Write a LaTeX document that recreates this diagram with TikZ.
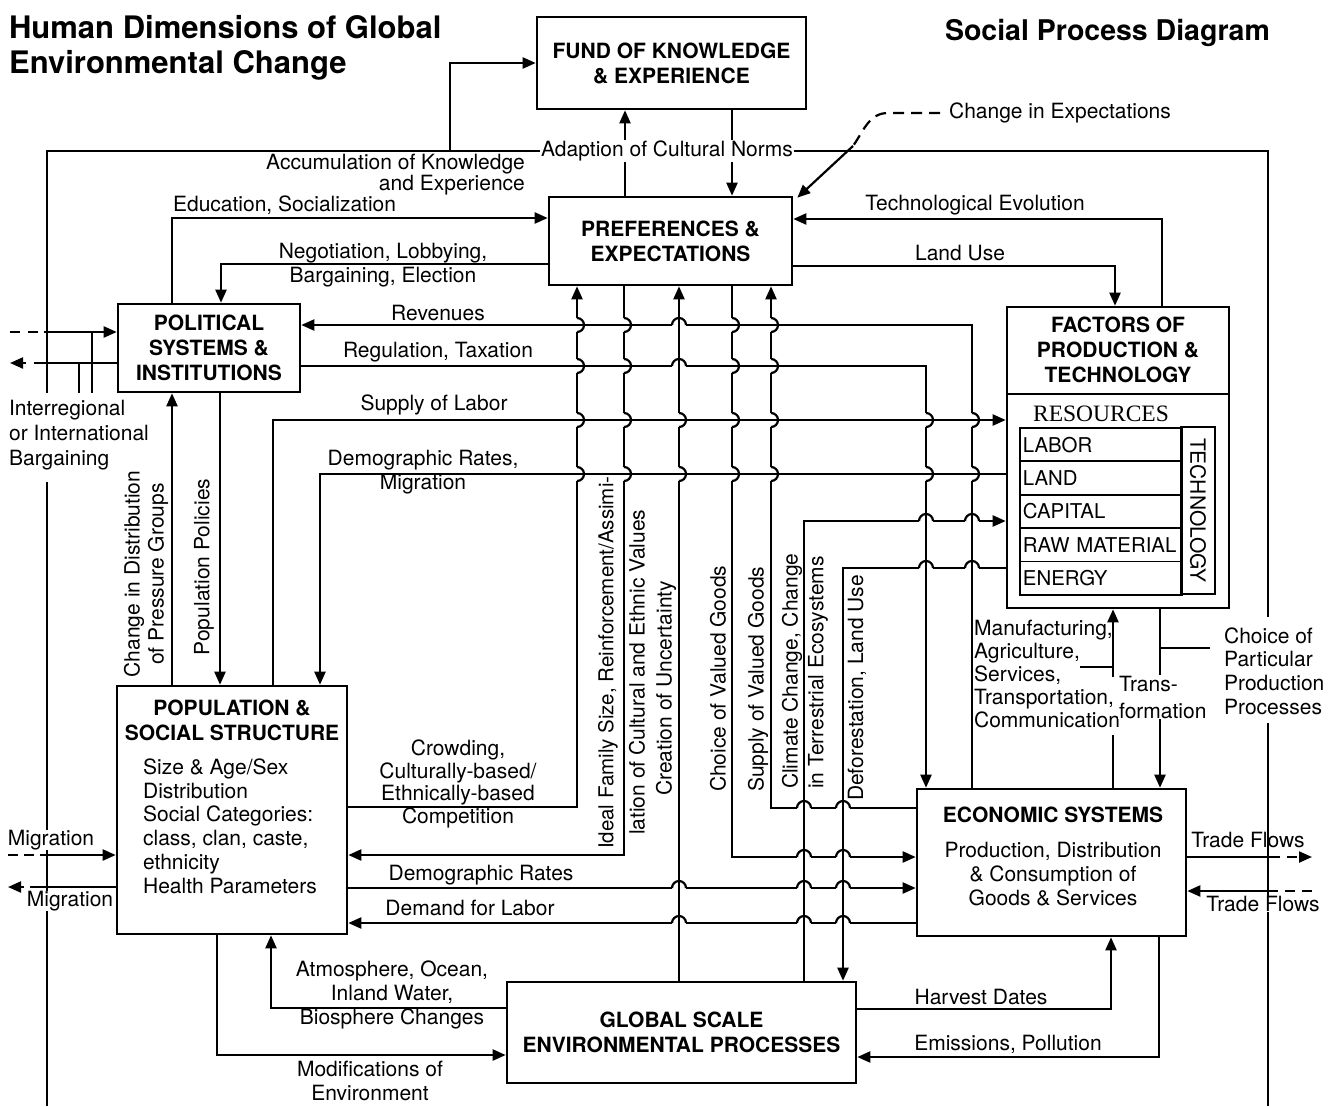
\documentclass[tikz,border=0pt]{standalone}
\usepackage{fontspec}
\setmainfont{TeX Gyre Heros}
\newfontfamily\serfont{Liberation Serif}
\usetikzlibrary{arrows.meta}

\begin{document}
\begin{tikzpicture}
	[x=1pt, y=1pt,
	line width=2.2pt,
	>={Triangle[length=13pt,width=11pt]},
	every node/.style={font=\fontsize{21}{24}\selectfont, inner sep=0pt},
	block/.style={draw, line width=2.6pt},
	btitle/.style={font=\fontsize{21}{25}\selectfont\bfseries, align=center},
	lbl/.style={align=center},
	vlbl/.style={rotate=90, anchor=west},
	wipe/.style={fill=white, inner sep=1pt},
	resrow/.style={draw, line width=1.8pt, anchor=north west, minimum height=33.4pt, text width=156pt, inner xsep=3pt, align=left, font=\fontsize{20.4}{22}\selectfont}]
\path[fill=white, use as bounding box] (0,0) rectangle (1337,-1106);

% titles
\node[anchor=north west, align=left, font=\fontsize{31}{35}\selectfont\bfseries] (title) at (8,-14) {Human Dimensions of Global\\Environmental Change};
\node[anchor=north east, font=\fontsize{28.5}{32}\selectfont\bfseries] (spd) at (1271,-18) {Social Process Diagram};

% boxes
\node[block, btitle, minimum width=269pt, minimum height=92pt] (fund) at (671.5,-63) {FUND OF KNOWLEDGE\\\& EXPERIENCE};
\node[block, btitle, minimum width=243pt, minimum height=88pt] (pref) at (670.5,-241) {PREFERENCES \&\\EXPECTATIONS};
\node[block, btitle, minimum width=182pt, minimum height=88pt] (pol) at (209,-348) {POLITICAL\\SYSTEMS \&\\INSTITUTIONS};
\node[block, minimum width=222pt, minimum height=301pt] (fact) at (1118,-457.5) {};
\node[block, minimum width=230pt, minimum height=248pt] (pop) at (232,-810) {};
\node[block, minimum width=269pt, minimum height=147pt] (econ) at (1051.5,-862.5) {};
\node[block, btitle, minimum width=349pt, minimum height=101pt] (glob) at (681.5,-1032.5) {GLOBAL SCALE\\ENVIRONMENTAL PROCESSES};

% inside factors
\node[btitle] (facttitle) at (1118,-350) {FACTORS OF\\PRODUCTION \&\\TECHNOLOGY};
\draw[line width=2.4pt] (fact.west |- 0,-394) -- (fact.east |- 0,-394);
\node[font=\fontsize{23.5}{26}\selectfont\serfont] (res) at (1101,-414) {RESOURCES};
\foreach \i/\rowtext in {0/LABOR,1/LAND,2/CAPITAL,3/RAW MATERIAL,4/ENERGY}
	\node[resrow] (r\i) at (1019,{-427-33.4*\i}) {\rowtext};
\node[draw, line width=1.8pt, rotate=-90, minimum width=167pt, minimum height=34pt] (tech) at (1198,-510.5) {TECHNOLOGY};

% inside population, economy
\node[btitle] (poptitle) at (232,-720) {POPULATION \&\\SOCIAL STRUCTURE};
\node[anchor=west, align=left, font=\fontsize{21}{23.8}\selectfont] (poplist) at (142,-826) {Size \& Age/Sex\\Distribution\\Social Categories:\\class,\ clan, caste,\\ethnicity\\Health Parameters};
\node[btitle] (econtitle) at (1053,-815) {ECONOMIC SYSTEMS};
\node[lbl] (econtxt) at (1053,-874) {Production, Distribution\\\& Consumption of\\Goods \& Services};

% outer frame
\coordinate (ftl) at (47,-151);
\coordinate (ftr) at (1268,-151);
\draw (47,-393) -- (ftl) -- (ftr) -- (1268,-617);
\draw (47,-482) -- (47,-1106);
\draw (1268,-723) -- (1268,-1106);

\node[anchor=west] (chexp) at (948,-113) {Change in Expectations};
\coordinate (chbend) at (853,-146);
\coordinate (accfoot) at (450,-151);

% connectors
\draw[->] (accfoot) |- (fund.west);
\draw[->] (pref.north -| 625,0) -- (fund.south -| 625,0);
\draw[->] (fund.south -| 732,0) -- (pref.north -| 732,0);
\draw[dash pattern=on 11pt off 7pt] ([xshift=-8pt]chexp.west) -- (888,-113) to[out=180, in=55] (chbend);
\draw[->] (chbend) -- ([xshift=4pt,yshift=-2pt]pref.north east);
\draw[->] (fact.north -| 1162,0) |- (pref.east |- 0,-219);
\draw[->] (pref.east |- 0,-266) -| (fact.north -| 1115,0);
\draw[->] (pol.north -| 172,0) |- (pref.west |- 0,-218);
\draw[->] (pref.west |- 0,-264) -| (pol.north -| 221,0);
\draw[->] (econ.north -| 972,0) |- (pol.east |- 0,-325);
\draw[->] (pol.east |- 0,-366) -| (econ.north -| 926,0);
\draw[->] (pop.north -| 273,0) |- (fact.west |- 0,-420);
\draw[->] (fact.west |- 0,-474) -| (pop.north -| 320,0);
\draw[->] (pop.north -| 172,0) -- (pol.south -| 172,0);
\draw[->] (pol.south -| 220,0) -- (pop.north -| 220,0);
\draw[->] (pop.east |- 0,-807) -| (pref.south -| 577,0);
\draw[->] (pref.south -| 624,0) |- (pop.east |- 0,-855);
\draw[->] (glob.north -| 679,0) -- (pref.south -| 679,0);
\draw[->] (pref.south -| 732,0) |- (econ.west |- 0,-857);
\draw[->] (econ.west |- 0,-808) -| (pref.south -| 771,0);
\draw[->] (glob.north -| 804,0) |- (fact.west |- 0,-521);
\draw[->] (fact.west |- 0,-568) -| (glob.north -| 843,0);
\draw (econ.north -| 1113,0) -- (1113,-735);
\draw[->] (1113,-677) -- (fact.south -| 1113,0);
\draw[->] (fact.south -| 1160,0) -- (econ.north -| 1160,0);
\draw[->] (pop.east |- 0,-888) -- (econ.west |- 0,-888);
\draw[->] (econ.west |- 0,-923) -- (pop.east |- 0,-923);
\draw[->] (glob.west |- 0,-1008) -| (pop.south -| 271,0);
\draw[->] (pop.south -| 217,0) |- (glob.west |- 0,-1055);
\draw[->] (glob.east |- 0,-1009) -| (econ.south -| 1111,0);
\draw[->] (econ.south -| 1159,0) |- (glob.east |- 0,-1057);
\draw (1080,-667) -- (1113,-667);
\draw (1160,-648) -- (1210,-648);

% flows leaving the region
\coordinate (tradeout) at (1312,-857);
\coordinate (tradein) at (1312,-891);
\draw (econ.east |- tradeout) -- (1270,-857);
\draw[->, dash pattern=on 10pt off 7pt] (1270,-857) -- (tradeout);
\draw[dash pattern=on 10pt off 7pt] (tradein) -- (1270,-891);
\draw[->] (1270,-891) -- (econ.east |- tradein);
\coordinate (migin) at (8,-855);
\coordinate (migout) at (8,-887);
\draw[dash pattern=on 10pt off 6pt] (migin) -- (40,-855);
\draw[->] (40,-855) -- (pop.west |- migin);
\draw (pop.west |- migout) -- (40,-887);
\draw[->, dash pattern=on 10pt off 6pt] (40,-887) -- (migout);
\coordinate (polin) at (10,-332);
\coordinate (polout) at (10,-363);
\draw[dash pattern=on 10pt off 8pt] (polin) -- (44,-332);
\draw[->] (44,-332) -- (pol.west |- polin);
\draw (pol.west |- polout) -- (44,-363);
\draw[->, dash pattern=on 10pt off 8pt] (44,-363) -- (polout);
\draw (92,-332) -- (92,-393);
\draw (79,-363) -- (79,-393);

% hops: horizontal line over vertical
\foreach \x/\y in {679/325, 679/366, 926/521, 972/521, 926/568, 972/568, 804/808, 843/808, 804/857, 843/857, 679/888, 804/888, 843/888, 679/923, 804/923, 843/923}
{
	\fill[white] (\x-7,-\y-3) rectangle (\x+7,-\y+3);
	\draw (\x,-\y-8) -- (\x,-\y+8);
	\draw (\x-7,-\y) arc (180:0:7);
}
% hops: vertical line over horizontal
\foreach \y/\xs in {325/{577,624,732,771}, 366/{577,624,732,771}, 420/{577,624,679,732,771,926,972}, 474/{577,624,679,732,771,926,972}}
	\foreach \x in \xs
	{
		\fill[white] (\x-3,-\y-7) rectangle (\x+3,-\y+7);
		\draw (\x-8,-\y) -- (\x+8,-\y);
		\draw (\x,-\y+7) arc (90:-90:7);
	}

% labels
\node[wipe] (adapt) at (667,-151) {Adaption of Cultural Norms};
\node[anchor=east, align=right, font=\fontsize{21}{21}\selectfont] (acc) at (526,-175) {Accumulation of Knowledge\\and Experience};
\node[anchor=west] (edu) at (172,-205) {Education, Socialization};
\node[lbl] (nego) at (383,-265) {Negotiation, Lobbying,\\Bargaining, Election};
\node (techev) at (975,-205) {Technological Evolution};
\node (landuse) at (960,-253) {Land Use};
\node (rev) at (438,-313) {Revenues};
\node (reg) at (438,-352) {Regulation, Taxation};
\node (sol) at (434,-405) {Supply of Labor};
\node[lbl] (demmig) at (423,-472) {Demographic Rates,\\Migration};
\node[anchor=west, align=left, font=\fontsize{21}{25}\selectfont] (interreg) at (8,-435) {Interregional\\or International\\Bargaining};
\node[lbl, rotate=90] (chdist) at (146,-574) {Change in Distribution\\of Pressure Groups};
\node[rotate=90] (poppol) at (204,-567) {Population Policies};
\node[lbl, font=\fontsize{21}{22.7}\selectfont] (crowd) at (458,-784) {Crowding,\\Culturally-based/\\Ethnically-based\\Competition};
\node[vlbl, font=\fontsize{20.5}{24}\selectfont] (ideal) at (608,-850) {Ideal Family Size, Reinforcement/Assimi-};
\node[vlbl] (lation) at (637,-836) {lation of Cultural and Ethnic Values};
\node[vlbl] (creat) at (666,-797) {Creation of Uncertainty};
\node[vlbl] (choicevg) at (718,-793) {Choice of Valued Goods};
\node[vlbl] (supplyvg) at (758,-793) {Supply of Valued Goods};
\node[vlbl] (climate) at (792,-790) {Climate Change, Change};
\node[vlbl] (terr) at (818,-790) {in Terrestrial Ecosystems};
\node[vlbl] (defor) at (857,-802) {Deforestation, Land Use};
\node[anchor=west, align=left, font=\fontsize{21}{23}\selectfont] (manuf) at (973,-674) {Manufacturing,\\Agriculture,\\Services,\\Transportation,\\Communication};
\node[wipe, anchor=west, align=left, font=\fontsize{21}{27}\selectfont] (trans) at (1117,-697) {Trans-\\formation};
\node[wipe, anchor=west, align=left, font=\fontsize{21}{23.7}\selectfont] (choicepp) at (1222,-671) {Choice of\\Particular\\Production\\Processes};
\node (demrates) at (481,-875) {Demographic Rates};
\node (demlab) at (470,-908) {Demand for Labor};
\node (trade1) at (1248,-840) {Trade Flows};
\node[fill=white] (trade2) at (1263,-904) {Trade Flows};
\node[fill=white, inner sep=0.5pt] (mig1) at (51,-840) {Migration};
\node[fill=white, inner sep=0.5pt] (mig2) at (70,-901) {Migration};
\node[lbl] (atm) at (392,-995) {Atmosphere, Ocean,\\Inland Water,\\Biosphere Changes};
\node[lbl] (modif) at (370,-1081) {Modifications of\\Environment};
\node (harvest) at (981,-997) {Harvest Dates};
\node (emis) at (1008,-1044) {Emissions, Pollution};
\end{tikzpicture}
\end{document}
